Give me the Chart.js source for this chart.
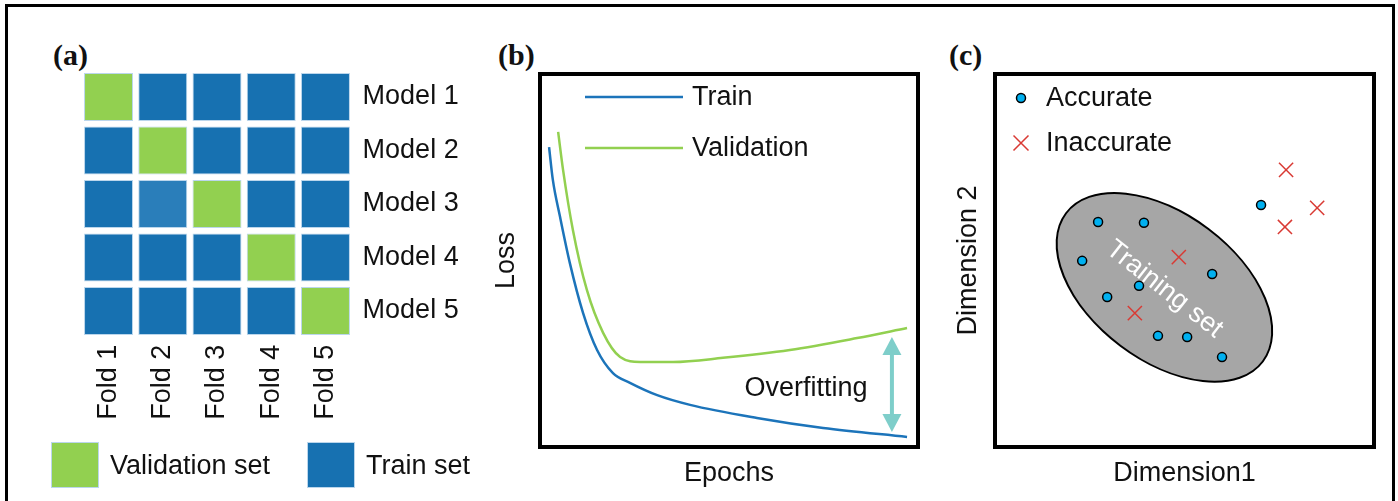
<!DOCTYPE html>
<html><head><meta charset="utf-8">
<script src="https://cdn.jsdelivr.net/npm/chart.js"></script>
<style>
html,body{margin:0;padding:0;background:#fff;width:1398px;height:501px;overflow:hidden;}
#wrap{position:relative;width:1398px;height:501px;overflow:hidden;background:#fff;}
.frame{position:absolute;left:5px;top:4px;width:1390px;height:560px;border:3px solid #000;box-sizing:border-box;}
canvas{position:absolute;top:0;}
.tag{position:absolute;font:bold 30px "Liberation Serif","Times New Roman",serif;color:#111;line-height:30px;}
</style></head><body>
<div id="wrap">
<div class="frame"></div>
<div class="tag" style="left:53px;top:40px">(a)</div>
<div class="tag" style="left:498px;top:40px">(b)</div>
<div class="tag" style="left:949px;top:40px">(c)</div>
<canvas id="ca" width="520" height="501" style="left:0;width:520px;height:501px"></canvas>
<canvas id="cb" width="460" height="501" style="left:480px;width:460px;height:501px"></canvas>
<canvas id="cc" width="458" height="501" style="left:940px;width:458px;height:501px"></canvas>
</div>
<script>
// ---------- data ----------
const folds = ['Fold 1', 'Fold 2', 'Fold 3', 'Fold 4', 'Fold 5'];
const models = ['Model 1', 'Model 2', 'Model 3', 'Model 4', 'Model 5'];
const validationFold = [1, 2, 3, 4, 5];          // fold used as validation set by each model
const setNames = ['Validation set', 'Train set'];

const seriesNames = ['Train', 'Validation'];
const epochsTrain = [2.4, 3.4, 5.3, 7.9, 11.4, 15.1, 19.3, 23.8, 31.0, 39.7, 57.4, 74.9, 97.1];
const lossTrain   = [80.4, 71.6, 61.7, 49.3, 35.9, 26.0, 19.8, 17.2, 13.9, 11.3, 7.8, 5.1, 2.7];
const epochsVal   = [4.8, 6.1, 8.7, 12.4, 16.7, 21.2, 26.5, 35.2, 48.4, 66.1, 83.9, 97.1];
const lossVal     = [84.5, 74.3, 58.2, 42.1, 30.6, 24.1, 22.8, 22.8, 23.9, 26.0, 29.2, 31.9];
const overfitGap  = [93.1, 4.0, 29.5];           // epoch, lower loss, upper loss
const overfitLabel = ['Overfitting', 70.4, 15.8];

const pointNames  = ['Accurate', 'Inaccurate'];
const accurateX   = [70.2, 27.2, 39.3, 23.0, 57.3, 38.0, 29.6, 43.0, 50.7, 59.9];
const accurateY   = [64.9, 60.3, 60.1, 49.9, 46.4, 43.2, 40.2, 29.8, 29.5, 24.1];
const inaccurateX = [76.8, 85.0, 76.5, 48.5, 36.9];
const inaccurateY = [74.3, 64.1, 59.0, 50.9, 35.9];
const trainingRegion = [44.7, 42.8, 32.5, 19.3, 37];   // centre x, centre y, semi-axis a, semi-axis b, tilt (deg)
const trainingLabel = 'Training set';

// ---------- styles ----------
const FONT = '"Liberation Sans", Arial, Helvetica, sans-serif';
Chart.defaults.font.family = FONT;
Chart.defaults.color = '#111';
const GREEN = '#92D050', BLUE = '#1771B1', BLUE_LIGHT = '#2A7EBA', CELL_EDGE = '#BBD6EC';
const LINE_BLUE = '#1C74BA', TEAL = '#7ECECA';
const CYAN = '#00B0F0', RED = '#D93A34', GRAY = '#A6A6A6';
const TXT = '#111';

function drawMarker(ctx, style, radius, bw, fill, stroke, x, y) {
  ctx.save();
  ctx.fillStyle = fill; ctx.strokeStyle = stroke; ctx.lineWidth = bw;
  if (Chart.helpers && Chart.helpers.drawPoint) {
    Chart.helpers.drawPoint(ctx, {pointStyle: style, radius: radius, borderWidth: bw, rotation: 0}, x, y);
  } else {
    ctx.beginPath();
    if (style === 'circle') { ctx.arc(x, y, radius, 0, Math.PI * 2); ctx.fill(); ctx.stroke(); }
    else { const d = radius * Math.SQRT1_2; ctx.moveTo(x - d, y - d); ctx.lineTo(x + d, y + d); ctx.moveTo(x + d, y - d); ctx.lineTo(x - d, y + d); ctx.stroke(); }
  }
  ctx.restore();
}

const boxBorder = {
  id: 'boxBorder',
  afterDraw(chart, args, o) {
    const {ctx, chartArea: a} = chart;
    ctx.save(); ctx.lineWidth = o.width; ctx.strokeStyle = o.color;
    ctx.strokeRect(a.left, a.top, a.right - a.left, a.bottom - a.top);
    ctx.restore();
  }
};

// ---------- (a) k-fold grid ----------
const HALF = 0.45;
const cellColor = (m, f) => (f + 1 === validationFold[m]) ? GREEN : ((m === 2 && f === 1) ? BLUE_LIGHT : BLUE);
const setLegend = {
  id: 'setLegend',
  afterDraw(chart, args, o) {
    const {ctx} = chart;
    ctx.save();
    setNames.forEach((t, i) => {
      const x = o.boxX[i];
      ctx.fillStyle = i === 0 ? GREEN : BLUE;
      ctx.fillRect(x, o.boxY, o.boxW, o.boxH);
      ctx.strokeStyle = CELL_EDGE; ctx.lineWidth = 1;
      ctx.strokeRect(x + 0.5, o.boxY + 0.5, o.boxW - 1, o.boxH - 1);
      ctx.fillStyle = TXT; ctx.font = '27px ' + FONT; ctx.textAlign = 'left'; ctx.textBaseline = 'middle';
      ctx.fillText(t, x + o.boxW + o.gap, o.boxY + o.boxH / 2 + 1.5);
    });
    ctx.restore();
  }
};
new Chart(document.getElementById('ca'), {
  type: 'bar',
  data: {
    labels: folds,
    datasets: models.map((name, m) => ({
      label: name, yAxisID: 'y', xAxisID: 'x',
      data: folds.map(() => [m + 1 - HALF, m + 1 + HALF]),
      backgroundColor: folds.map((f, j) => cellColor(m, j)),
      borderColor: CELL_EDGE, borderWidth: 1, borderSkipped: false,
      grouped: false, barPercentage: 0.903, categoryPercentage: 1
    }))
  },
  options: {
    responsive: false, animation: false,
    layout: {padding: {left: 19, top: 70.25, right: 0, bottom: 0}},
    plugins: {
      tooltip: {enabled: false},
      legend: {display: false},
      setLegend: {boxX: [51, 307], boxY: 442, boxW: 48, boxH: 46, gap: 11}
    },
    scales: {
      x: {
        type: 'category', grid: {display: false, drawTicks: false}, border: {display: false},
        ticks: {minRotation: 90, maxRotation: 90, padding: 7, color: TXT, font: {size: 27}, autoSkip: false},
        afterFit: s => { s.height = 163.25; }
      },
      pad: {
        type: 'linear', position: 'left', display: true,
        grid: {display: false, drawTicks: false}, border: {display: false}, ticks: {display: false},
        afterFit: s => { s.width = 62.4; }
      },
      y: {
        type: 'linear', position: 'right', min: 0.5, max: 5.5, reverse: true,
        grid: {display: false, drawTicks: false}, border: {display: false},
        afterBuildTicks: s => { s.ticks = models.map((_, i) => ({value: i + 1})); },
        ticks: {padding: 10, color: TXT, font: {size: 27}, autoSkip: false, callback: v => models[v - 1]},
        afterFit: s => { s.width = 167.4; }
      }
    }
  },
  plugins: [setLegend]
});

// ---------- (b) loss curves ----------
const lineLegend = {
  id: 'lineLegend',
  afterDraw(chart, args, o) {
    const {ctx, chartArea: a} = chart;
    ctx.save();
    chart.data.datasets.forEach((ds, i) => {
      const y = a.top + o.firstRow + i * o.rowGap;
      ctx.strokeStyle = ds.borderColor; ctx.lineWidth = ds.borderWidth;
      ctx.beginPath(); ctx.moveTo(a.left + o.lineStart, y); ctx.lineTo(a.left + o.lineEnd, y); ctx.stroke();
      ctx.fillStyle = TXT; ctx.font = '27px ' + FONT; ctx.textBaseline = 'middle'; ctx.textAlign = 'left';
      ctx.fillText(ds.label, a.left + o.textX, y + 1);
    });
    ctx.restore();
  }
};
const overfitArrow = {
  id: 'overfitArrow',
  afterDatasetsDraw(chart, args, o) {
    const {ctx, scales: {x, y}} = chart;
    const px = x.getPixelForValue(overfitGap[0]);
    const yb = y.getPixelForValue(overfitGap[1]);
    const yt = y.getPixelForValue(overfitGap[2]);
    ctx.save();
    ctx.fillStyle = TEAL; ctx.strokeStyle = TEAL;
    ctx.lineWidth = 4;
    ctx.beginPath(); ctx.moveTo(px, yt + 10); ctx.lineTo(px, yb - 10); ctx.stroke();
    ctx.beginPath(); ctx.moveTo(px, yt); ctx.lineTo(px + 9.5, yt + 18); ctx.lineTo(px - 9.5, yt + 18); ctx.closePath(); ctx.fill();
    ctx.beginPath(); ctx.moveTo(px, yb); ctx.lineTo(px + 9.5, yb - 18); ctx.lineTo(px - 9.5, yb - 18); ctx.closePath(); ctx.fill();
    ctx.fillStyle = TXT; ctx.font = '27px ' + FONT; ctx.textAlign = 'center'; ctx.textBaseline = 'middle';
    ctx.fillText(overfitLabel[0], x.getPixelForValue(overfitLabel[1]), y.getPixelForValue(overfitLabel[2]));
    ctx.restore();
  }
};
new Chart(document.getElementById('cb'), {
  type: 'line',
  data: {
    datasets: [
      {label: seriesNames[0], data: epochsTrain.map((e, i) => ({x: e, y: lossTrain[i]})),
       borderColor: LINE_BLUE, borderWidth: 2.5, pointRadius: 0, cubicInterpolationMode: 'monotone', fill: false},
      {label: seriesNames[1], data: epochsVal.map((e, i) => ({x: e, y: lossVal[i]})),
       borderColor: GREEN, borderWidth: 2.5, pointRadius: 0, cubicInterpolationMode: 'monotone', fill: false}
    ]
  },
  options: {
    responsive: false, animation: false,
    layout: {padding: {left: 0, top: 74, right: 22, bottom: 0}},
    plugins: {
      legend: {display: false}, tooltip: {enabled: false},
      boxBorder: {width: 4, color: '#000'},
      lineLegend: {firstRow: 23, rowGap: 51, lineStart: 45, lineEnd: 143, textX: 152}
    },
    scales: {
      x: {type: 'linear', min: 0, max: 100, grid: {display: false, drawTicks: false}, border: {display: false},
          ticks: {display: false},
          title: {display: true, text: 'Epochs', color: TXT, font: {size: 27}, padding: {top: 0, bottom: 10.8}},
          afterFit: s => { s.height = 54; }},
      y: {type: 'linear', min: 0, max: 100, grid: {display: false, drawTicks: false}, border: {display: false},
          ticks: {display: false},
          title: {display: true, text: 'Loss', color: TXT, font: {size: 27}, padding: {top: 10.8, bottom: 0}},
          afterFit: s => { s.width = 60; }}
    }
  },
  plugins: [boxBorder, lineLegend, overfitArrow]
});

// ---------- (c) scatter ----------
const regionPlugin = {
  id: 'region',
  beforeDatasetsDraw(chart) {
    const {ctx, scales: {x, y}} = chart;
    const [cx, cy, ra, rb, tilt] = trainingRegion;
    const px = x.getPixelForValue(cx), py = y.getPixelForValue(cy);
    const a = Math.abs(x.getPixelForValue(cx + ra) - px);
    const b = Math.abs(x.getPixelForValue(cx + rb) - px);
    ctx.save();
    ctx.beginPath(); ctx.ellipse(px, py, a, b, tilt * Math.PI / 180, 0, Math.PI * 2);
    ctx.fillStyle = GRAY; ctx.fill(); ctx.lineWidth = 2; ctx.strokeStyle = '#000'; ctx.stroke();
    ctx.translate(px, py + 2); ctx.rotate(38 * Math.PI / 180);
    ctx.font = '27px ' + FONT; ctx.fillStyle = '#fff'; ctx.textAlign = 'center'; ctx.textBaseline = 'middle';
    ctx.fillText(trainingLabel, 0, 0);
    ctx.restore();
  }
};
const markerLegend = {
  id: 'markerLegend',
  afterDraw(chart, args, o) {
    const {ctx, chartArea: a} = chart;
    chart.data.datasets.forEach((ds, i) => {
      const y = a.top + o.firstRow + i * o.rowGap;
      drawMarker(ctx, ds.pointStyle, o.radius[i], ds.borderWidth, ds.backgroundColor, ds.borderColor, a.left + o.markerX, y);
      ctx.save();
      ctx.fillStyle = TXT; ctx.font = '27px ' + FONT; ctx.textBaseline = 'middle'; ctx.textAlign = 'left';
      ctx.fillText(ds.label, a.left + o.textX, y + 1);
      ctx.restore();
    });
  }
};
new Chart(document.getElementById('cc'), {
  type: 'scatter',
  data: {
    datasets: [
      {label: pointNames[0], data: accurateX.map((v, i) => ({x: v, y: accurateY[i]})),
       pointStyle: 'circle', pointRadius: 4.5, backgroundColor: CYAN, borderColor: '#000', borderWidth: 1.5},
      {label: pointNames[1], data: inaccurateX.map((v, i) => ({x: v, y: inaccurateY[i]})),
       pointStyle: 'crossRot', pointRadius: 10, backgroundColor: RED, borderColor: RED, borderWidth: 1.5}
    ]
  },
  options: {
    responsive: false, animation: false,
    layout: {padding: {left: 0, top: 74, right: 24, bottom: 0}},
    plugins: {
      legend: {display: false}, tooltip: {enabled: false},
      boxBorder: {width: 4, color: '#000'},
      markerLegend: {firstRow: 24, rowGap: 45, markerX: 26, textX: 51, radius: [4.5, 10.6]}
    },
    scales: {
      x: {type: 'linear', min: 0, max: 100, grid: {display: false, drawTicks: false}, border: {display: false},
          ticks: {display: false},
          title: {display: true, text: 'Dimension1', color: TXT, font: {size: 27}, padding: {top: 0, bottom: 10.8}},
          afterFit: s => { s.height = 54; }},
      y: {type: 'linear', min: 0, max: 100, grid: {display: false, drawTicks: false}, border: {display: false},
          ticks: {display: false},
          title: {display: true, text: 'Dimension 2', color: TXT, font: {size: 27}, padding: {top: 12.8, bottom: 0}},
          afterFit: s => { s.width = 55; }}
    }
  },
  plugins: [boxBorder, regionPlugin, markerLegend]
});
</script>
</body></html>
